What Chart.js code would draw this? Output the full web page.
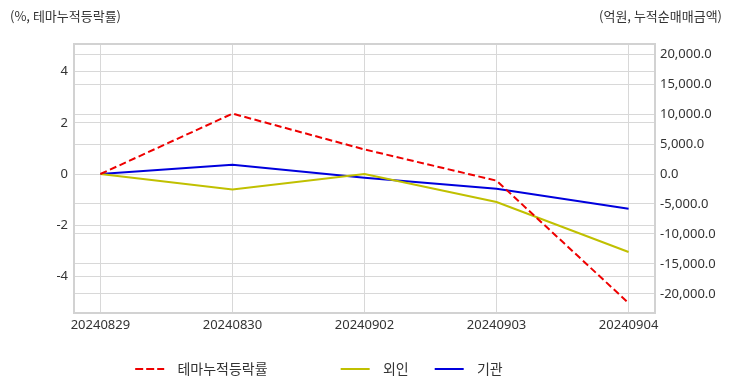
<!DOCTYPE html>
<html><head><meta charset="utf-8">
<script src="https://cdn.jsdelivr.net/npm/chart.js@4.4.1/dist/chart.umd.min.js"></script>
<style>html,body{margin:0;padding:0;background:#fff}#wrap{width:732px;height:392px;position:relative}</style>
</head><body><div id="wrap"><canvas id="c"></canvas></div>
<script>
const categories = ['20240829', '20240830', '20240902', '20240903', '20240904'];
const themeReturn = [0, 2.36, 0.96, -0.26, -5.04];
const foreignNet = [0, -2570, 0, -4670, -13000];
const institutionNet = [0, 1550, -630, -2450, -5780];
const leftTicks = [-4, -2, 0, 2, 4];
const rightTicks = [-20000, -15000, -10000, -5000, 0, 5000, 10000, 15000, 20000];
const seriesNames = ['테마누적등락률', '외인', '기관'];
const leftTitle = '(%, 테마누적등락률)';
const rightTitle = '(억원, 누적순매매금액)';

const FONT = "'Noto Sans', 'Noto Sans CJK KR', sans-serif";
const KFONT = "'Noto Sans CJK KR', 'Noto Sans', sans-serif";
const toXY = arr => arr.map((v, i) => ({x: i, y: v}));
const sp = n => ' '.repeat(n);
// legend label spacing (leading gap after the line sample, trailing gaps between items)
const legendLead = [2, 2, 2];
const legendTrail = [15, 0, 30];

const frameAndTitles = {
  id: 'frameAndTitles',
  afterDraw(chart) {
    const {ctx, chartArea: a, width} = chart;
    ctx.save();
    ctx.strokeStyle = '#d2d2d2';
    ctx.lineWidth = 2;
    ctx.strokeRect(a.left, a.top, a.right - a.left, a.bottom - a.top);
    ctx.fillStyle = '#333';
    ctx.font = '13px ' + KFONT;
    ctx.textBaseline = 'middle';
    ctx.textAlign = 'left';
    ctx.fillText(leftTitle, 10, 16);
    ctx.textAlign = 'right';
    ctx.fillText(rightTitle, width - 10, 16);
    ctx.restore();
  }
};

new Chart(document.getElementById('c'), {
  type: 'line',
  data: {
    datasets: [
      {label: seriesNames[0], data: toXY(themeReturn), yAxisID: 'y', borderColor: '#ee0000', backgroundColor: '#ee0000', borderWidth: 2, borderDash: [7, 3.5], pointRadius: 0, tension: 0},
      {label: seriesNames[1], data: toXY(foreignNet), yAxisID: 'y1', borderColor: '#c0c000', backgroundColor: '#c0c000', borderWidth: 2, pointRadius: 0, tension: 0},
      {label: seriesNames[2], data: toXY(institutionNet), yAxisID: 'y1', borderColor: '#0000dd', backgroundColor: '#0000dd', borderWidth: 2, pointRadius: 0, tension: 0}
    ]
  },
  options: {
    responsive: true,
    maintainAspectRatio: false,
    animation: false,
    layout: {padding: {top: 44, bottom: 6, left: 0, right: 0}},
    plugins: {
      legend: {
        position: 'bottom',
        labels: {
          font: {family: KFONT, size: 14},
          color: '#333',
          usePointStyle: true,
          pointStyle: 'line',
          pointStyleWidth: 29,
          padding: 26,
          generateLabels(chart) {
            const items = Chart.defaults.plugins.legend.labels.generateLabels(chart);
            items.forEach((it, i) => {
              const ds = chart.data.datasets[it.datasetIndex];
              it.text = sp(legendLead[i]) + it.text + sp(legendTrail[i]);
              it.lineWidth = ds.borderWidth;
              it.strokeStyle = ds.borderColor;
              it.lineDash = ds.borderDash ? [8, 3] : [];
              it.lineDashOffset = 0;
            });
            return items;
          }
        }
      },
      tooltip: {enabled: false}
    },
    scales: {
      x: {
        type: 'linear',
        min: -0.2,
        max: 4.2,
        afterFit: s => { s.height = 23; },
        afterBuildTicks: s => { s.ticks = categories.map((c, i) => ({value: i})); },
        ticks: {autoSkip: false, maxRotation: 0, padding: 4,
          color: '#333', font: {family: FONT, size: 13},
          callback: v => categories[v] ?? ''},
        grid: {color: '#d8d8d8', drawTicks: false},
        border: {color: '#d2d2d2', width: 2}
      },
      y: {
        position: 'left',
        min: -5.43,
        max: 5.08,
        afterFit: s => { s.width = 74; },
        afterBuildTicks: s => { s.ticks = leftTicks.map(v => ({value: v})); },
        ticks: {padding: 6, color: '#333', font: {family: FONT, size: 13}},
        grid: {color: '#d8d8d8', drawTicks: false},
        border: {color: '#d2d2d2', width: 2}
      },
      y1: {
        position: 'right',
        min: -23170,
        max: 21670,
        afterFit: s => { s.width = 77; },
        afterBuildTicks: s => { s.ticks = rightTicks.map(v => ({value: v})); },
        ticks: {padding: 5, color: '#333', font: {family: FONT, size: 13},
          callback: v => v.toLocaleString('en-US', {minimumFractionDigits: 1, maximumFractionDigits: 1})},
        grid: {color: '#d8d8d8', drawTicks: false},
        border: {color: '#d2d2d2', width: 2}
      }
    }
  },
  plugins: [frameAndTitles]
});
</script></body></html>
